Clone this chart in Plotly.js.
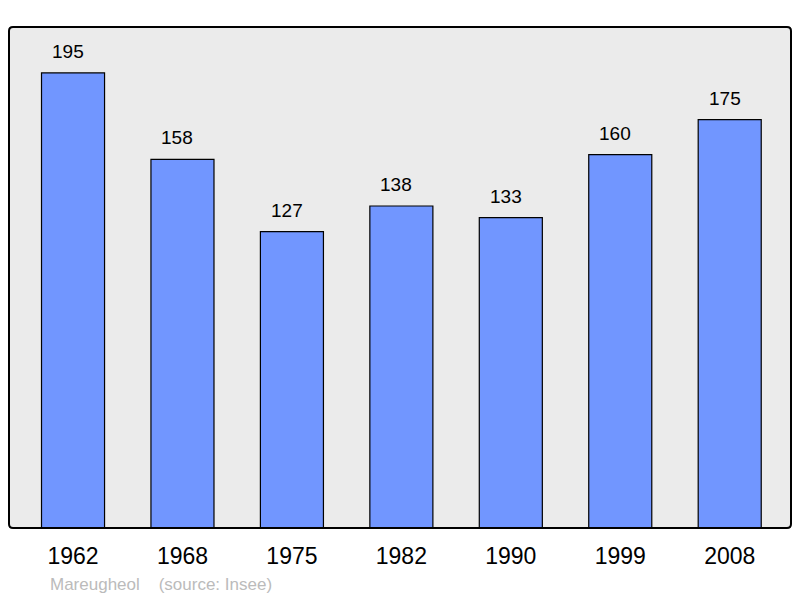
<!DOCTYPE html>
<html>
<head>
<meta charset="utf-8">
<script src="https://cdn.plot.ly/plotly-3.0.1.min.js"></script>
<style>html,body{margin:0;padding:0;background:#fff;}#chart{width:800px;height:598px;}</style>
</head>
<body>
<div id="chart"></div>
<script>
const years = ["1962", "1968", "1975", "1982", "1990", "1999", "2008"];
const population = [195, 158, 127, 138, 133, 160, 175];
const footerText = "Mareugheol    (source: Insee)";

const xs = years.map((_, i) => i);

const annotations = population.map((v, i) => ({
  x: i, y: v, xref: 'x', yref: 'y',
  text: String(v), showarrow: false,
  yanchor: 'bottom', yshift: 9, xshift: -5,
  font: {family: 'Liberation Sans, Arial, sans-serif', size: 19, color: '#000'}
}));
annotations.push({
  x: 0.0505, y: -0.1118, xref: 'paper', yref: 'paper',
  xanchor: 'left', yanchor: 'middle', showarrow: false,
  text: footerText.replace(/ {2,}/g, m => '&nbsp;'.repeat(m.length)),
  font: {family: 'Liberation Sans, Arial, sans-serif', size: 17, color: '#bbbbbb'}
});

// rounded frame path in paper coordinates
const rx = 4 / 782, ry = 4 / 501;
const framePath = `M ${rx},0 L ${1 - rx},0 Q 1,0 1,${ry} L 1,${1 - ry} Q 1,1 ${1 - rx},1 L ${rx},1 Q 0,1 0,${1 - ry} L 0,${ry} Q 0,0 ${rx},0 Z`;

Plotly.newPlot('chart', [{
  type: 'bar',
  x: xs,
  y: population,
  width: 0.576,
  marker: {color: '#7196ff', line: {color: '#000', width: 1.2}},
  hoverinfo: 'none'
}], {
  width: 800, height: 598,
  margin: {l: 9, r: 9, t: 27, b: 70, pad: 0},
  paper_bgcolor: '#ffffff',
  plot_bgcolor: '#ebebeb',
  showlegend: false,
  xaxis: {
    range: [-0.585, 6.56],
    tickvals: xs, ticktext: years,
    showgrid: false, zeroline: false, showline: false, ticks: '',
    ticklabelstandoff: 12,
    tickfont: {family: 'Liberation Sans, Arial, sans-serif', size: 23, color: '#000'}
  },
  yaxis: {
    range: [0, 214.7], visible: false, showgrid: false, zeroline: false
  },
  shapes: [{
    type: 'path', xref: 'paper', yref: 'paper', path: framePath,
    line: {color: '#000', width: 2}, layer: 'above'
  }],
  annotations: annotations
}, {staticPlot: true});
</script>
</body>
</html>
